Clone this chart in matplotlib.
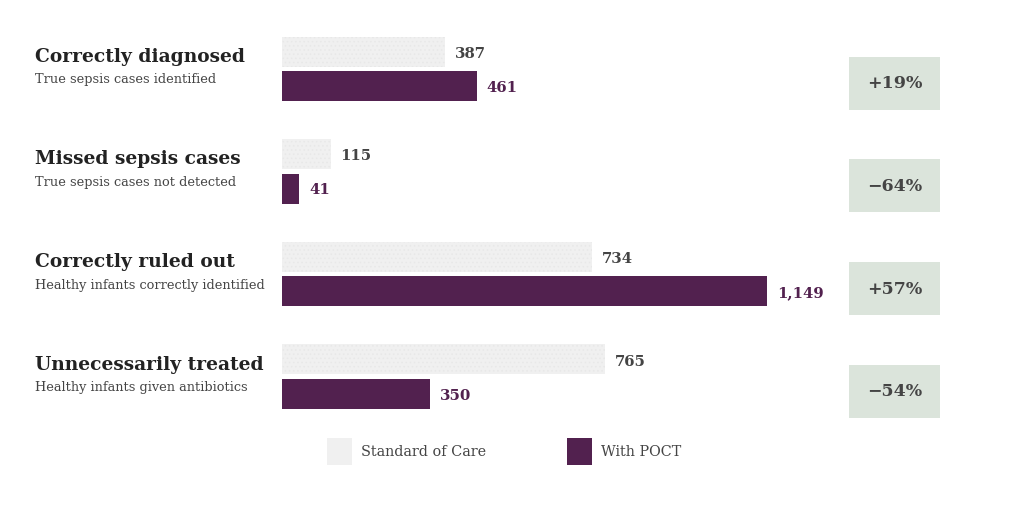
import matplotlib
matplotlib.use("Agg")
import matplotlib.pyplot as plt
from matplotlib.patches import Rectangle

categories = ["Correctly diagnosed", "Missed sepsis cases", "Correctly ruled out", "Unnecessarily treated"]
subtitles = ["True sepsis cases identified", "True sepsis cases not detected",
             "Healthy infants correctly identified", "Healthy infants given antibiotics"]
standard_of_care = [387, 115, 734, 765]
with_poct = [461, 41, 1149, 350]
change_labels = ["+19%", "\u221264%", "+57%", "\u221254%"]
series_names = ["Standard of Care", "With POCT"]

GRAY = "#f0f0f0"
PURPLE = "#52214f"
BOX = "#dbe4db"
DARK = "#222222"
MID = "#444444"

plt.rcParams["hatch.color"] = "#e8e8e8"
plt.rcParams["hatch.linewidth"] = 0.6

W, H = 1024, 514
fig = plt.figure(figsize=(W / 100, H / 100), dpi=100)
ax = fig.add_axes([0, 0, 1, 1])

# pixel <-> data mapping
X0, SX = 282, 0.422      # x pixel of zero, px per unit
Y0, SY = 52, 102.5       # y pixel of first gray bar center, px per group

def dx(px):
    return (px - X0) / SX

def dy(py):
    return (py - Y0) / SY

ax.set_xlim(dx(0), dx(W))
ax.set_ylim(dy(H), dy(0))
ax.axis("off")

bar_h = 30 / SY
off = 34 / SY
serif = ["DejaVu Serif"]

for i, (cat, sub, s, p, ch) in enumerate(zip(categories, subtitles, standard_of_care, with_poct, change_labels)):
    yg = i
    yp = i + off
    ax.barh(yg, s, height=bar_h, color=GRAY, edgecolor="#e8e8e8", linewidth=0, hatch="....")
    ax.barh(yp, p, height=bar_h, color=PURPLE, linewidth=0)
    ax.text(s + dx(X0 + 10), yg + 2 / SY, f"{s:,}", ha="left", va="center",
            fontsize=10.7, fontweight="bold", color=MID, family=serif)
    ax.text(p + dx(X0 + 10), yp + 2 / SY, f"{p:,}", ha="left", va="center",
            fontsize=10.7, fontweight="bold", color=PURPLE, family=serif)
    # titles
    ax.text(dx(35), yg + dy(57), cat, ha="left", va="center", fontsize=13.4,
            fontweight="bold", color=DARK, family=serif)
    ax.text(dx(35), yg + dy(80), sub, ha="left", va="center", fontsize=9.3,
            color=MID, family=serif)
    # change box
    ax.add_patch(Rectangle((dx(849), yg + 5 / SY), dx(940) - dx(849), 53 / SY,
                           facecolor=BOX, edgecolor="none"))
    ax.text((dx(849) + dx(940)) / 2, yg + 32 / SY, ch, ha="center", va="center",
            fontsize=12.5, fontweight="bold", color=MID, family=serif)

# legend
ax.add_patch(Rectangle((dx(327), dy(438)), dx(352) - dx(327), 27 / SY,
                       facecolor=GRAY, edgecolor="none", linewidth=0))
ax.text(dx(361), dy(452), series_names[0], ha="left", va="center", fontsize=10.4,
        color=MID, family=serif)
ax.add_patch(Rectangle((dx(567), dy(438)), dx(592) - dx(567), 27 / SY,
                       facecolor=PURPLE, edgecolor="none"))
ax.text(dx(601), dy(452), series_names[1], ha="left", va="center", fontsize=10.4,
        color=MID, family=serif)

fig.savefig("out.png", dpi=100, facecolor="white")
